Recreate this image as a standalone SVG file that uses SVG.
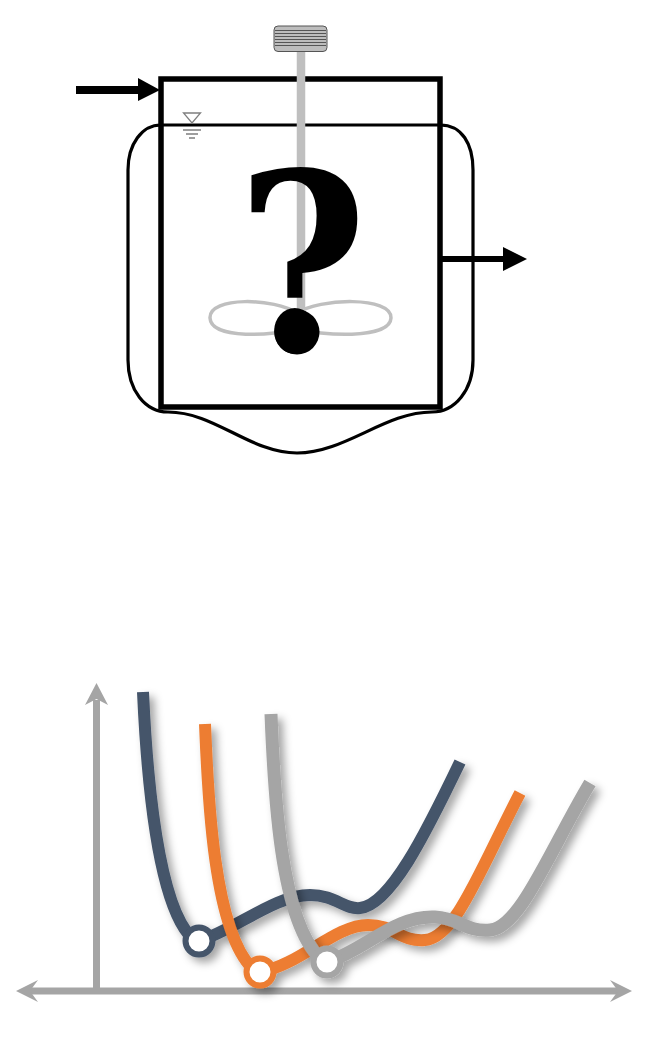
<svg xmlns="http://www.w3.org/2000/svg" width="653" height="1040" viewBox="0 0 653 1040">
<style>
.k{fill:none;stroke:#000}
.g{fill:none;stroke:#bfbfbf}
.c{fill:none;stroke-linecap:butt}
.ax{fill:none;stroke:#a5a5a5;stroke-width:7}
.hd{fill:#a5a5a5}
.pt{fill:#fff;stroke-width:6}
.lv{fill:none;stroke:#7f7f7f;stroke-width:1.3}
</style>
<defs>
<filter id="sh" x="-20%" y="-20%" width="140%" height="140%"><feDropShadow dx="5" dy="5" stdDeviation="4" flood-color="#000" flood-opacity=".36"/></filter>
</defs>
<rect width="653" height="1040" fill="#fff"/>
<g id="reactor">
<path class="k" stroke-width="3.200" d="M161 125H440C462 125 473 144 473 170V360C473 390 455 412 432 412C385 412 345 453 297 453C250 453 215 412 168 412C145 412 128 390 128 360V170C128 144 142 125 161 125Z"/>
<rect class="k" stroke-width="5.500" x="161" y="79" width="279" height="328"/>
<path class="g" stroke-width="8.500" d="M301 51V312"/>
<path class="g" stroke-width="3.500" d="M297 313C275 298 209 296 210 318C211 340 275 336 297 328"/>
<path class="g" stroke-width="3.500" d="M297 313C319 298 392 296 391 318C390 340 319 336 297 328"/>
<text x="237" y="351" font-family="'DejaVu Serif Condensed','Liberation Serif',serif" font-weight="700" font-size="247" fill="#000">?</text>
<circle cx="297" cy="332" r="22.500" fill="#000"/>
<rect x="274" y="26" width="53" height="25.500" rx="4" fill="#bdbdbd" stroke="#555" stroke-width="1"/>
<path d="M275 30.500H326M275 33.500H326M275 36.500H326M275 39.500H326M275 42.500H326M275 45.500H326" stroke="#555" stroke-width="1"/>
<path d="M183.500 113H200.500L192 123Z M183 130H201 M186 134H198 M189 138H195" class="lv"/>
</g>
<g id="flows">
<path d="M76 90H140" stroke="#000" stroke-width="8" fill="none"/>
<path d="M138 78L160 90L138 101Z" fill="#000"/>
<path d="M442 259H505" stroke="#000" stroke-width="6" fill="none"/>
<path d="M503 247L527 259L503 271Z" fill="#000"/>
</g>
<g id="axes">
<path class="ax" d="M96.500 988V700"/>
<path class="hd" d="M96.500 683L108 705L96.500 699L85 705Z"/>
<path class="ax" d="M30 991H620"/>
<path class="hd" d="M632 991L610 980L618 991L610 1002Z"/>
<path class="hd" d="M16 991L38 980L30 991L38 1002Z"/>
</g>
<g id="curve-blue" filter="url(#sh)">
<path class="c" stroke="#44546a" stroke-width="12" d="M143 692C147 780 158 905 192 938L199 941C235 930 275 895 310 895C335 895 345 910 360 908C390 905 425 835 460 762"/>
<circle class="pt" stroke="#44546a" cx="199" cy="941" r="13.500"/>
</g>
<g id="curve-orange" filter="url(#sh)">
<path class="c" stroke="#ed7d31" stroke-width="12" d="M205 724C208 800 214 930 252 968L260 972C300 965 335 925 368 925C395 925 400 942 425 940C455 938 480 870 520 793"/>
<circle class="pt" stroke="#ed7d31" cx="260" cy="972" r="13.500"/>
</g>
<g id="curve-gray" filter="url(#sh)">
<path class="c" stroke="#a5a5a5" stroke-width="13" d="M271 714C274 790 280 920 320 958L327 962C365 950 395 915 435 917C460 918 465 932 490 930C520 928 550 850 590 783"/>
<circle class="pt" stroke="#a5a5a5" cx="327" cy="962" r="13.500"/>
</g>
</svg>
